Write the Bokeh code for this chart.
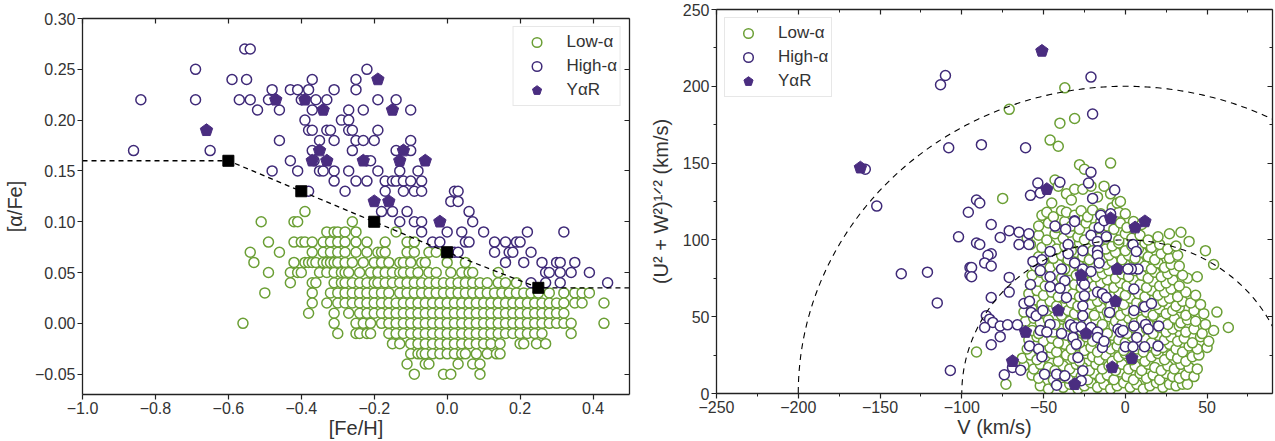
import numpy as np
from bokeh.plotting import figure
from bokeh.layouts import row
from bokeh.models import (Range1d, LinearAxis, FixedTicker,
                          CustomJSTickFormatter, Legend, LegendItem)
from bokeh.embed import file_html
from bokeh.resources import INLINE

GREEN = "#6b9f35"
PURPLE = "#3f2a78"
YAR_FILL = "#4a2d80"
FONT = "Liberation Sans"
TXT = "#333333"

# ---------------- chemistry panel: [Fe/H] vs [alpha/Fe] ----------------
# low-alpha stars, grouped by their (quantised) [alpha/Fe] value -> [Fe/H] list
low_alpha_rows = {
    0.11: [-0.39],
    0.10: [-0.51, -0.42, -0.41, -0.26],
    0.09: [-0.33, -0.31, -0.30, -0.28, -0.25, -0.14],
    0.08: [-0.49, -0.42, -0.40, -0.39, -0.37, -0.34, -0.32, -0.30, -0.28, -0.25,
           -0.22, -0.17, -0.11, -0.09],
    0.07: [-0.54, -0.46, -0.37, -0.34, -0.32, -0.30, -0.28, -0.25, -0.22, -0.19,
           -0.18, -0.17, -0.11, -0.09, -0.05, -0.03],
    0.06: [-0.53, -0.42, -0.39, -0.38, -0.37, -0.36, -0.34, -0.33, -0.32, -0.31,
           -0.30, -0.28, -0.26, -0.23, -0.20, -0.18, -0.16, -0.13, -0.12, -0.10,
           -0.07, -0.06, 0.00, 0.05],
    0.05: [-0.49, -0.43, -0.41, -0.40, -0.35, -0.33, -0.31, -0.29, -0.28, -0.27,
           -0.24, -0.21, -0.19, -0.17, -0.15, -0.13, -0.12, -0.10, -0.08, -0.05,
           -0.03, 0.01, 0.04, 0.06, 0.07, 0.14],
    0.04: [-0.43, -0.37, -0.36, -0.31, -0.29, -0.28, -0.26, -0.24, -0.22, -0.20,
           -0.19, -0.17, -0.15, -0.13, -0.11, -0.09, -0.07, -0.05, -0.03, -0.01,
           0.01, 0.03, 0.05, 0.07, 0.09, 0.11, 0.14, 0.16, 0.19],
    0.03: [-0.50, -0.37, -0.32, -0.30, -0.28, -0.26, -0.24, -0.22, -0.20, -0.18,
           -0.16, -0.13, -0.11, -0.09, -0.07, -0.05, -0.03, -0.01, 0.01, 0.03,
           0.05, 0.07, 0.09, 0.11, 0.13, 0.15, 0.17, 0.19, 0.21, 0.23, 0.25,
           0.28, 0.32, 0.35, 0.37, 0.39],
    0.02: [-0.37, -0.33, -0.30, -0.28, -0.26, -0.24, -0.22, -0.20, -0.18, -0.16,
           -0.14, -0.12, -0.10, -0.08, -0.06, -0.04, -0.02, 0.00, 0.02, 0.04,
           0.06, 0.08, 0.10, 0.12, 0.14, 0.16, 0.18, 0.20, 0.22, 0.24, 0.26,
           0.28, 0.30, 0.32, 0.35, 0.37, 0.43],
    0.01: [-0.38, -0.31, -0.27, -0.24, -0.22, -0.20, -0.18, -0.16, -0.14, -0.12,
           -0.10, -0.08, -0.06, -0.04, -0.02, 0.00, 0.02, 0.04, 0.06, 0.08, 0.10,
           0.12, 0.14, 0.16, 0.18, 0.20, 0.22, 0.24, 0.26, 0.28, 0.30, 0.32],
    0.00: [-0.56, -0.31, -0.25, -0.23, -0.21, -0.18, -0.16, -0.14, -0.12, -0.10,
           -0.08, -0.06, -0.04, -0.02, 0.00, 0.02, 0.04, 0.06, 0.08, 0.10, 0.12,
           0.14, 0.16, 0.18, 0.20, 0.22, 0.24, 0.26, 0.28, 0.30, 0.32, 0.34, 0.43],
    -0.01: [-0.30, -0.25, -0.24, -0.22, -0.21, -0.16, -0.14, -0.12, -0.10, -0.08,
            -0.06, -0.04, -0.02, 0.00, 0.02, 0.04, 0.06, 0.08, 0.10, 0.12, 0.14,
            0.16, 0.18, 0.20, 0.22, 0.24, 0.26, 0.34],
    -0.02: [-0.15, -0.13, -0.10, -0.08, -0.06, -0.04, -0.02, 0.00, 0.02, 0.04,
            0.06, 0.08, 0.10, 0.12, 0.145, 0.20, 0.21, 0.245, 0.27],
    -0.03: [-0.10, -0.08, -0.07, -0.06, -0.04, -0.02, 0.00, 0.02, 0.04, 0.05,
            0.08, 0.11, 0.135, 0.145],
    -0.04: [-0.11, -0.06, -0.05, 0.03, 0.07, 0.09],
    -0.05: [-0.09, -0.01, 0.01, 0.09],
}

# high-alpha stars: ([Fe/H], [alpha/Fe])
high_alpha_chem = [
    (-0.84, 0.22), (-0.86, 0.17), (-0.69, 0.25), (-0.69, 0.22), (-0.65, 0.17),
    (-0.555, 0.27), (-0.54, 0.27), (-0.59, 0.24), (-0.55, 0.24), (-0.57, 0.22),
    (-0.54, 0.22), (-0.52, 0.21), (-0.48, 0.23), (-0.49, 0.22), (-0.46, 0.21),
    (-0.46, 0.18), (-0.48, 0.15), (-0.43, 0.23), (-0.41, 0.23), (-0.38, 0.23),
    (-0.40, 0.22), (-0.36, 0.22), (-0.37, 0.24), (-0.37, 0.21), (-0.39, 0.20),
    (-0.38, 0.19), (-0.37, 0.19), (-0.35, 0.18), (-0.43, 0.16), (-0.41, 0.15),
    (-0.37, 0.17), (-0.365, 0.16), (-0.35, 0.15), (-0.38, 0.13), (-0.33, 0.22),
    (-0.31, 0.23), (-0.25, 0.24), (-0.22, 0.25), (-0.25, 0.23), (-0.27, 0.21),
    (-0.23, 0.21), (-0.19, 0.22), (-0.14, 0.22), (-0.10, 0.21), (-0.29, 0.20),
    (-0.27, 0.20), (-0.33, 0.19), (-0.32, 0.19), (-0.27, 0.19), (-0.26, 0.19),
    (-0.19, 0.19), (-0.31, 0.18), (-0.25, 0.18), (-0.23, 0.18), (-0.20, 0.18),
    (-0.10, 0.18), (-0.26, 0.17), (-0.14, 0.17), (-0.10, 0.17), (-0.22, 0.16),
    (-0.21, 0.16), (-0.34, 0.15), (-0.31, 0.15), (-0.27, 0.15), (-0.19, 0.15),
    (-0.13, 0.15), (-0.08, 0.15), (-0.31, 0.14), (-0.25, 0.14), (-0.22, 0.14),
    (-0.17, 0.14), (-0.15, 0.14), (-0.14, 0.14), (-0.12, 0.14), (-0.10, 0.14),
    (-0.07, 0.14), (-0.28, 0.13), (-0.17, 0.13), (-0.12, 0.13), (-0.09, 0.13),
    (-0.07, 0.13), (0.01, 0.12), (0.02, 0.13), (0.03, 0.13), (0.03, 0.12),
    (0.06, 0.11), (-0.18, 0.11), (-0.15, 0.11), (-0.11, 0.11), (-0.13, 0.10),
    (-0.09, 0.10), (-0.07, 0.10), (0.07, 0.10), (-0.07, 0.09), (0.00, 0.09),
    (0.04, 0.09), (0.10, 0.09), (0.22, 0.09), (0.32, 0.09), (-0.04, 0.08),
    (-0.02, 0.08), (0.05, 0.08), (0.06, 0.08), (0.13, 0.08), (0.16, 0.08),
    (0.19, 0.08), (0.20, 0.08), (0.02, 0.07), (0.03, 0.07), (0.13, 0.07),
    (0.17, 0.07), (0.18, 0.07), (0.23, 0.07), (0.16, 0.06), (0.21, 0.06),
    (0.26, 0.06), (0.30, 0.06), (0.31, 0.06), (0.35, 0.06), (0.27, 0.05),
    (0.28, 0.05), (0.31, 0.05), (0.34, 0.05), (0.39, 0.05), (0.23, 0.04),
    (0.27, 0.04), (0.31, 0.04), (0.44, 0.04),
]

# young alpha-rich stars: ([Fe/H], [alpha/Fe])
yar_chem = [
    (-0.66, 0.19), (-0.47, 0.22), (-0.39, 0.22), (-0.35, 0.17), (-0.37, 0.16),
    (-0.34, 0.21), (-0.19, 0.24), (-0.15, 0.21), (-0.12, 0.17), (-0.33, 0.16),
    (-0.23, 0.16), (-0.13, 0.16), (-0.06, 0.16), (-0.20, 0.12), (-0.16, 0.12),
    (-0.02, 0.10),
]

# high/low-alpha dividing line
boundary_feh = [-0.6, -0.4, -0.2, 0.0, 0.25]
boundary_afe = [0.16, 0.13, 0.10, 0.07, 0.035]

feh_ticks = [-1.0, -0.8, -0.6, -0.4, -0.2, 0.0, 0.2, 0.4]
afe_ticks = [-0.05, 0.00, 0.05, 0.10, 0.15, 0.20, 0.25, 0.30]

# ---------------- kinematics panel: Toomre diagram ----------------
# low-alpha stars: (V, sqrt(U^2+W^2)) in km/s
low_alpha_kin = [
    (-52, 5), (-47, 3), (-43, 7), (-38, 4), (-34, 6), (-29, 3), (-25, 5), (-21, 7),
    (-17, 4), (-13, 6), (-9, 3), (-5, 5), (-1, 7), (3, 4), (7, 6), (11, 3), (15, 5),
    (19, 7), (23, 4), (27, 6), (31, 5), (35, 6), (38, 6), (-73, 6),
    (-57, 12), (-53, 10), (-48, 13), (-44, 9), (-40, 12), (-35, 10), (-31, 14),
    (-27, 11), (-23, 9), (-19, 13), (-15, 10), (-11, 12), (-7, 9), (-3, 14), (1, 11),
    (5, 9), (9, 13), (13, 10), (17, 12), (21, 9), (25, 13), (29, 11), (33, 10),
    (37, 12), (42, 11),
    (-62, 18), (-56, 16), (-52, 19), (-47, 17), (-43, 15), (-38, 18), (-34, 16),
    (-30, 19), (-26, 17), (-22, 15), (-18, 19), (-14, 16), (-10, 18), (-6, 15),
    (-2, 19), (2, 16), (6, 18), (10, 15), (14, 19), (18, 17), (22, 15), (26, 18),
    (30, 16), (34, 19), (39, 17), (44, 16),
    (-63, 23), (-58, 25), (-54, 22), (-49, 24), (-45, 26), (-41, 21), (-36, 25),
    (-32, 23), (-28, 21), (-24, 26), (-20, 24), (-16, 22), (-12, 25), (-8, 21),
    (-4, 24), (0, 26), (4, 22), (8, 25), (12, 21), (16, 24), (20, 26), (24, 22),
    (28, 25), (32, 23), (37, 21), (41, 24), (45, 25),
    (-60, 29), (-55, 31), (-51, 28), (-46, 30), (-42, 27), (-37, 32), (-33, 29),
    (-29, 31), (-25, 28), (-21, 30), (-17, 27), (-13, 32), (-9, 29), (-5, 31),
    (-1, 28), (3, 32), (7, 29), (11, 27), (15, 31), (19, 28), (23, 30), (27, 32),
    (31, 29), (35, 27), (39, 31), (44, 29), (50, 30),
    (-59, 35), (-54, 37), (-50, 34), (-45, 36), (-41, 33), (-36, 38), (-32, 35),
    (-28, 33), (-24, 37), (-20, 34), (-16, 36), (-12, 33), (-8, 38), (-4, 35),
    (0, 33), (4, 37), (8, 34), (12, 36), (16, 33), (20, 38), (24, 35), (28, 37),
    (32, 34), (36, 36), (41, 33), (46, 37), (51, 34),
    (-57, 41), (-53, 39), (-48, 43), (-44, 40), (-39, 42), (-35, 44), (-31, 39),
    (-27, 41), (-23, 43), (-19, 40), (-15, 42), (-11, 39), (-7, 44), (-3, 41),
    (1, 39), (5, 43), (9, 40), (13, 42), (17, 39), (21, 43), (25, 40), (29, 42),
    (33, 44), (37, 40), (42, 42), (47, 39), (54, 41), (63, 43),
    (-61, 47), (-56, 49), (-52, 46), (-47, 48), (-43, 45), (-38, 50), (-34, 47),
    (-30, 45), (-26, 49), (-22, 46), (-18, 48), (-14, 45), (-10, 50), (-6, 47),
    (-2, 45), (2, 49), (6, 46), (10, 48), (14, 45), (18, 50), (22, 47), (26, 45),
    (30, 49), (34, 46), (38, 48), (43, 47), (49, 45),
    (-62, 53), (-57, 55), (-53, 52), (-48, 54), (-44, 56), (-39, 51), (-35, 54),
    (-31, 52), (-27, 55), (-23, 53), (-19, 51), (-15, 56), (-11, 53), (-7, 55),
    (-3, 51), (1, 54), (5, 52), (9, 56), (13, 53), (17, 51), (21, 55), (25, 52),
    (29, 54), (33, 56), (37, 51), (42, 54), (48, 52), (56, 53),
    (-60, 59), (-55, 61), (-51, 58), (-46, 60), (-42, 57), (-37, 62), (-33, 59),
    (-29, 57), (-25, 61), (-21, 58), (-17, 60), (-13, 62), (-9, 57), (-5, 60),
    (-1, 58), (3, 62), (7, 59), (11, 57), (15, 61), (19, 58), (23, 60), (27, 62),
    (31, 57), (35, 60), (40, 59), (46, 58),
    (-59, 65), (-54, 67), (-50, 64), (-45, 66), (-41, 63), (-36, 68), (-32, 65),
    (-28, 63), (-24, 67), (-20, 64), (-16, 66), (-12, 68), (-8, 63), (-4, 66),
    (0, 64), (4, 68), (8, 65), (12, 63), (16, 67), (20, 64), (24, 66), (28, 68),
    (32, 63), (37, 66), (43, 64),
    (-58, 71), (-53, 73), (-49, 70), (-44, 72), (-40, 69), (-35, 74), (-31, 71),
    (-27, 69), (-23, 73), (-19, 70), (-15, 72), (-11, 74), (-7, 69), (-3, 72),
    (1, 70), (5, 74), (9, 71), (13, 69), (17, 73), (21, 70), (25, 72), (29, 74),
    (33, 70), (38, 75), (44, 76),
    (-57, 77), (-52, 79), (-48, 76), (-43, 78), (-39, 75), (-34, 80), (-30, 77),
    (-26, 75), (-22, 79), (-18, 76), (-14, 78), (-10, 80), (-6, 75), (-2, 78),
    (2, 76), (6, 80), (10, 77), (14, 75), (18, 79), (22, 76), (26, 78), (30, 80),
    (35, 77),
    (-55, 83), (-50, 85), (-46, 82), (-41, 84), (-37, 81), (-32, 86), (-28, 83),
    (-24, 81), (-20, 85), (-16, 82), (-12, 84), (-8, 86), (-4, 81), (0, 84),
    (4, 82), (8, 86), (12, 83), (16, 81), (20, 85), (24, 82), (28, 84), (33, 83),
    (54, 84),
    (-53, 89), (-48, 91), (-44, 88), (-39, 90), (-35, 87), (-30, 92), (-26, 89),
    (-22, 87), (-18, 91), (-14, 88), (-10, 90), (-6, 92), (-2, 87), (2, 90),
    (6, 88), (10, 92), (14, 89), (18, 87), (22, 91), (27, 88), (32, 90), (49, 93),
    (-58, 97), (-51, 95), (-46, 97), (-42, 94), (-37, 96), (-33, 93), (-28, 98),
    (-24, 95), (-20, 93), (-16, 97), (-12, 94), (-8, 96), (-4, 98), (0, 93),
    (4, 96), (8, 94), (12, 98), (16, 95), (21, 97), (26, 94), (31, 96), (39, 99),
    (-60, 101), (-53, 103), (-48, 100), (-43, 104), (-38, 101), (-34, 105),
    (-29, 102), (-25, 100), (-20, 104), (-16, 101), (-12, 105), (-8, 102),
    (-4, 100), (0, 104), (4, 101), (9, 103), (14, 100), (20, 102), (27, 104),
    (34, 105),
    (-53, 109), (-47, 111), (-42, 108), (-37, 112), (-33, 109), (-28, 107),
    (-24, 111), (-19, 108), (-15, 112), (-11, 109), (-7, 107), (-3, 111), (1, 108),
    (5, 112), (10, 110),
    (-51, 116), (-48, 118), (-44, 115), (-39, 119), (-36, 118), (-31, 116),
    (-27, 119), (-23, 115), (-20, 119.5), (-15, 117), (-11, 115), (-8, 121),
    (-4, 118), (0, 117),
    (-75, 127), (-45, 124), (-43, 139), (-41, 135), (-36, 130), (-31, 133),
    (-26, 133), (-21, 135), (-13, 135), (-33, 126), (-17, 128), (-5, 124),
    (-3, 125), (-9, 130),
    (-28, 149), (-25, 146), (-9, 150), (-46, 165), (-41, 161), (-37, 199),
    (-71, 185), (-40, 176), (-31, 179), (-91, 27),
]

# high-alpha stars: (V, sqrt(U^2+W^2)) in km/s
high_alpha_kin = [
    (-113, 201), (-110, 207), (-108, 160), (-159, 146), (-152, 122), (-96, 118),
    (-21, 206), (-20, 182), (-88, 162), (-61, 160), (-102, 102), (-137, 78),
    (-121, 79), (-115, 59), (-107, 15), (-95, 82), (-95, 77),
    (-21, 144), (-53.5, 137), (-40, 137.5), (-22.5, 137), (-6.5, 132.5), (-58, 129),
    (-52, 130.5), (-20, 127), (-91, 126), (-89, 124), (-15, 116), (-9, 117),
    (-31, 112.5), (-82, 110), (-91, 98), (-89, 97), (-76.5, 101.6), (-71, 106),
    (-65, 105), (-59, 104), (-82, 91), (-84, 90), (-86, 85), (-82, 83), (-65, 97),
    (-59, 97), (-56.5, 86), (-51, 87), (-46, 92.5), (-94, 82), (-94, 76),
    (-71, 75.6), (-71, 66), (-82, 62.5), (-58, 71), (-52, 80), (-46, 76),
    (-46, 69.5), (-62, 58.6), (-58.6, 60), (-85, 50.6), (-83, 48.4), (-81, 46.3),
    (-86, 43), (-76.5, 44), (-72, 44.7), (-66, 44.7), (-76.5, 37), (-82, 31.7),
    (-74, 12.2), (-69, 17), (-64, 15.2), (-57.6, 52.8), (-54.5, 50.6), (-50.4, 54),
    (-58.6, 31), (-53, 29), (-51, 24), (-49.4, 12.6), (-42, 12.6), (-37, 11.5),
    (-42, 5.4), (-52, 41), (-46, 45), (-48, 40), (-39, 81), (-37, 73.4),
    (-40, 68.6), (-36, 62.5), (-35, 97), (-35, 91), (-31, 85), (-26, 93),
    (-26.5, 73), (-26, 81), (-25, 71), (-25, 63.6), (-26, 57), (-26, 50.6),
    (-39, 39), (-32, 36.5), (-33.5, 44.7), (-31, 43), (-27, 43.4), (-31, 112),
    (-36.5, 107), (-43, 109), (-21, 103), (-17, 99), (-16, 108), (-13, 112.5),
    (-11.6, 102), (-17, 93), (-17, 90), (-16, 85), (-21, 79.5), (-17, 66),
    (-14, 65), (-11.6, 62.5), (-9.6, 52.8), (-21, 43), (-17, 40), (-17, 36.5),
    (-14, 30), (-13, 34), (-30, 32), (-29, 23.5), (-26, 14.8), (-27, 8.3),
    (-4.5, 42), (-3, 40), (-1.4, 41), (4.7, 97), (6.7, 92.5), (7.8, 81), (3.7, 81),
    (1.6, 81), (5.3, 68), (5.3, 54), (11.8, 56.5), (16, 58.6), (5.3, 44), (7, 36.5),
    (12.4, 45), (14, 42), (20.4, 44), (0, 30.4), (4.7, 30.4), (11.8, 30.4), (20, 31),
]

# young alpha-rich stars: (V, sqrt(U^2+W^2)) in km/s
yar_kin = [
    (-51, 223), (-162, 147), (-48, 133), (-9, 114), (12, 112), (6, 108), (-5, 81),
    (-27, 77), (-6, 60), (-41, 54), (-24, 39), (-61, 40), (4, 23), (-8, 17),
    (-69, 21), (-31, 6),
]

# constant total peculiar velocity curves (km/s)
guide_speeds = [100, 200]

v_ticks = [-250, -200, -150, -100, -50, 0, 50]
v_minor = [-225, -175, -125, -75, -25, 25, 75]
uw_ticks = [0, 50, 100, 150, 200, 250]
uw_minor = [25, 75, 125, 175, 225]

MARKER_SIZE = 10
MARKER_LW = 1.5


def signed_fmt(digits):
    return CustomJSTickFormatter(
        code=f"return (tick < 0 ? '\u2212' : '') + Math.abs(tick).toFixed({digits});")


def style_axis(ax):
    ax.axis_line_color = "#222222"
    ax.axis_line_width = 1.3
    ax.major_tick_line_color = "#222222"
    ax.major_tick_line_width = 1.2
    ax.minor_tick_line_color = "#222222"
    ax.minor_tick_line_width = 1.0
    ax.major_tick_out = 5
    ax.major_tick_in = 0
    ax.minor_tick_out = 3
    ax.minor_tick_in = 0
    ax.major_label_standoff = 2
    ax.major_label_text_font = FONT
    ax.major_label_text_font_size = "16px"
    ax.major_label_text_color = TXT
    ax.axis_label_text_font = FONT
    ax.axis_label_text_font_size = "20px"
    ax.axis_label_text_font_style = "normal"
    ax.axis_label_text_color = TXT


def mirror_axis(p, ticker, side):
    # frame edge with inward ticks only, no labels
    ax = LinearAxis(ticker=ticker, formatter=CustomJSTickFormatter(code="return '';"))
    style_axis(ax)
    ax.major_tick_out = 0
    ax.major_tick_in = 5
    ax.minor_tick_out = 0
    ax.minor_tick_in = 3
    ax.major_label_text_font_size = "1px"
    ax.major_label_text_color = None
    ax.major_label_standoff = 0
    p.add_layout(ax, side)


def make_legend(items, location):
    leg = Legend(items=items, location=location)
    leg.border_line_color = "#cfcfcf"
    leg.border_line_width = 1.2
    leg.background_fill_color = "white"
    leg.label_text_font = FONT
    leg.label_text_font_size = "17px"
    leg.label_text_color = TXT
    leg.glyph_width = 40
    leg.glyph_height = 24
    leg.label_height = 24
    leg.label_standoff = 10
    leg.padding = 3
    leg.spacing = 0
    leg.margin = 8
    return leg


# ---------------- left figure ----------------
low_feh = [f for a, fs in low_alpha_rows.items() for f in fs]
low_afe = [a for a, fs in low_alpha_rows.items() for f in fs]
hi_feh, hi_afe = zip(*high_alpha_chem)
yar_feh, yar_afe = zip(*yar_chem)

p1 = figure(width=640, height=441, x_range=Range1d(-1.0, 0.5), y_range=Range1d(-0.07, 0.30),
            output_backend="svg", toolbar_location=None, title_location=None,
            min_border_left=82, min_border_right=11, min_border_top=18, min_border_bottom=47)
p1.frame_align = False
p1.grid.visible = False
p1.outline_line_color = None
p1.background_fill_color = "white"

r_low1 = p1.scatter(low_feh, low_afe, marker="circle", size=MARKER_SIZE, line_width=MARKER_LW,
                    line_color=GREEN, fill_color="white")
r_hi1 = p1.scatter(list(hi_feh), list(hi_afe), marker="circle", size=MARKER_SIZE,
                   line_width=MARKER_LW, line_color=PURPLE, fill_color="white")
r_yar1 = p1.ngon(x=list(yar_feh), y=list(yar_afe), radius=6.5, radius_units="screen", n=5,
                 fill_color=YAR_FILL, line_color=YAR_FILL)

line_x = [p1.x_range.start] + boundary_feh + [p1.x_range.end]
line_y = [boundary_afe[0]] + boundary_afe + [boundary_afe[-1]]
p1.line(line_x, line_y, line_color="black", line_width=1.3, line_dash="5 4")
p1.scatter(boundary_feh, boundary_afe, marker="square", size=11, color="black")

xt1 = FixedTicker(ticks=feh_ticks, minor_ticks=[])
yt1 = FixedTicker(ticks=afe_ticks, minor_ticks=[])
p1.xaxis.ticker = xt1
p1.yaxis.ticker = yt1
p1.xaxis.formatter = signed_fmt(1)
p1.yaxis.formatter = signed_fmt(2)
for ax in p1.xaxis + p1.yaxis:
    style_axis(ax)
p1.xaxis.axis_label = "[Fe/H]"
p1.yaxis.axis_label = "[\u03b1/Fe]"
p1.yaxis.axis_label_standoff = 6
p1.xaxis.axis_label_standoff = 0
mirror_axis(p1, xt1, "above")
mirror_axis(p1, yt1, "right")

p1.add_layout(make_legend([
    LegendItem(label="Low-\u03b1", renderers=[r_low1]),
    LegendItem(label="High-\u03b1", renderers=[r_hi1]),
    LegendItem(label="Y\u03b1R", renderers=[r_yar1]),
], "top_right"))

# ---------------- right figure ----------------
low_v, low_uw = zip(*low_alpha_kin)
hi_v, hi_uw = zip(*high_alpha_kin)
yar_v, yar_uw = zip(*yar_kin)

p2 = figure(width=635, height=441, x_range=Range1d(-250, 90), y_range=Range1d(0, 250),
            output_backend="svg", toolbar_location=None, title_location=None,
            min_border_left=76, min_border_right=3, min_border_top=9, min_border_bottom=48)
p2.frame_align = False
p2.grid.visible = False
p2.outline_line_color = None
p2.background_fill_color = "white"

r_low2 = p2.scatter(list(low_v), list(low_uw), marker="circle", size=MARKER_SIZE,
                    line_width=MARKER_LW, line_color=GREEN, fill_color="white")
r_hi2 = p2.scatter(list(hi_v), list(hi_uw), marker="circle", size=MARKER_SIZE,
                   line_width=MARKER_LW, line_color=PURPLE, fill_color="white")
r_yar2 = p2.ngon(x=list(yar_v), y=list(yar_uw), radius=6.5, radius_units="screen", n=5,
                 fill_color=YAR_FILL, line_color=YAR_FILL)

theta = np.linspace(0.0, np.pi, 400)
for speed in guide_speeds:
    p2.line(speed * np.cos(theta), speed * np.sin(theta), line_color="black",
            line_width=1.1, line_dash="6 5")

xt2 = FixedTicker(ticks=v_ticks, minor_ticks=v_minor)
yt2 = FixedTicker(ticks=uw_ticks, minor_ticks=uw_minor)
p2.xaxis.ticker = xt2
p2.yaxis.ticker = yt2
p2.xaxis.formatter = signed_fmt(0)
p2.yaxis.formatter = signed_fmt(0)
for ax in p2.xaxis + p2.yaxis:
    style_axis(ax)
p2.xaxis.axis_label = "V (km/s)"
p2.yaxis.axis_label = "(U\u00b2 + W\u00b2)\u00b9\u141f\u00b2 (km/s)"
p2.yaxis.axis_label_standoff = 8
p2.xaxis.axis_label_standoff = 0
mirror_axis(p2, xt2, "above")
mirror_axis(p2, yt2, "right")

p2.add_layout(make_legend([
    LegendItem(label="Low-\u03b1", renderers=[r_low2]),
    LegendItem(label="High-\u03b1", renderers=[r_hi2]),
    LegendItem(label="Y\u03b1R", renderers=[r_yar2]),
], "top_left"))

layout = row(p1, p2)
with open("out.html", "w", encoding="utf-8") as fh:
    fh.write(file_html(layout, INLINE))
